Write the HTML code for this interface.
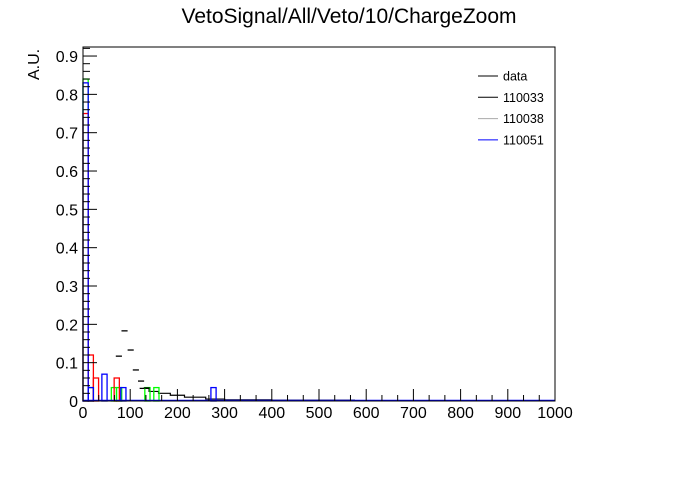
<!DOCTYPE html>
<html><head><meta charset="utf-8"><style>
body{margin:0;background:#fff;}
svg text{font-family:"Liberation Sans",sans-serif;}
</style></head><body>
<svg id="c" width="696" height="472" xmlns="http://www.w3.org/2000/svg">
<rect width="696" height="472" fill="#fff"/>
<text x="349" y="23" font-size="21" text-anchor="middle">VetoSignal/All/Veto/10/ChargeZoom</text>
<text transform="translate(39,80) rotate(-90)" font-size="16">A.U.</text>
<g id="plot"></g>
</svg>
<script>
const dataX=[76,88,101,112,123,135];
const dataY=[0.117,0.183,0.133,0.081,0.052,0.034];
const redStart=[0,11,22,66];
const redVal=[0.75,0.12,0.06,0.06];
const blueStart=[0,11,40,80,271];
const blueVal=[0.83,0.035,0.07,0.035,0.035];
const greenStart=[0,11,60,71,131,150];
const greenVal=[0.84,0.035,0.035,0.035,0.035,0.035];
const blackEdges=[120,140,160,185,215,260,300,400,575];
const blackVal=[0.033,0.025,0.02,0.015,0.01,0.005,0.003,0.002];
const xTicks=[0,100,200,300,400,500,600,700,800,900,1000];
const yTicks=[0,0.1,0.2,0.3,0.4,0.5,0.6,0.7,0.8,0.9];
const BW=11;
const X0=83,X1=555,Y0=401,YT=47;
const sx=v=>X0+(v/1000)*(X1-X0);
const sy=v=>Y0-v*383.3;
const NS='http://www.w3.org/2000/svg';
const g=document.getElementById('plot');
function mk(t,a){const e=document.createElementNS(NS,t);for(const k in a)e.setAttribute(k,a[k]);g.appendChild(e);return e;}
function hist(starts,vals,color,name){
  starts.forEach((s,i)=>{
    const r=mk('rect',{x:sx(s),y:sy(vals[i]),width:sx(s+BW)-sx(s),height:Y0-sy(vals[i]),fill:'none',stroke:color,'stroke-width':1.3});
    
    
  });
}
// frame
const fr=mk('rect',{x:X0,y:YT,width:X1-X0,height:Y0-YT,fill:'none',stroke:'#000','stroke-width':1});


// black MC step
let d='';
blackVal.forEach((v,i)=>{d+=(i?'L':'M')+sx(blackEdges[i])+','+sy(v)+'H'+sx(blackEdges[i+1]);});
d+='V'+Y0;
const bl=mk('path',{d:d,fill:'none',stroke:'#000','stroke-width':1.2});


hist(greenStart,greenVal,'#00ff00','series-110038');
hist(redStart,redVal,'#ff0000','series-extra');
hist(blueStart,blueVal,'#0000ff','series-110051');
const bz=mk('line',{x1:X0,x2:X1,y1:Y0-0.5,y2:Y0-0.5,stroke:'#0000ff','stroke-width':1.5});


// data markers
dataX.forEach((x,i)=>{
  const m=mk('line',{x1:sx(x-6.5),x2:sx(x+6.5),y1:sy(dataY[i]),y2:sy(dataY[i]),stroke:'#000','stroke-width':1.3});
  
  
});
// x axis
const ax=mk('line',{x1:X0,x2:X1,y1:Y0,y2:Y0,stroke:'#000'});


xTicks.forEach((t,i)=>{
  mk('line',{x1:sx(t),x2:sx(t),y1:Y0,y2:Y0-12,stroke:'#000'});
  if(i<xTicks.length-1){for(let k=1;k<3;k++){const v=t+k*100/3;mk('line',{x1:sx(v),x2:sx(v),y1:Y0,y2:Y0-6,stroke:'#000'});}}
  const tx=mk('text',{x:sx(t),y:418,'font-size':16,'text-anchor':'middle'});
  tx.textContent=t;
  
  
});
// y axis
const ay=mk('line',{x1:X0,x2:X0,y1:YT,y2:Y0,stroke:'#000'});


for(let k=0;k<=46;k++){const v=k*0.02;if(sy(v)<YT)break;mk('line',{x1:X0,x2:X0+(k%5==0?14:7),y1:sy(v),y2:sy(v),stroke:'#000'});}
yTicks.forEach(t=>{
  const tx=mk('text',{x:78,y:sy(t)+6,'font-size':16,'text-anchor':'end'});
  tx.textContent=t===0?'0':t.toFixed(1);
  
  
});
// legend
const leg=[['data','#000'],['110033','#000'],['110038','#aaa'],['110051','#0000ff']];
leg.forEach((l,i)=>{
  const y=76+i*21.3;
  const ln=mk('line',{x1:478,x2:498,y1:y,y2:y,stroke:l[1]});
  
  
  const tx=mk('text',{x:503,y:y+4.5,'font-size':12.5});
  tx.textContent=l[0];
  
  
});
</script>
</body></html>
